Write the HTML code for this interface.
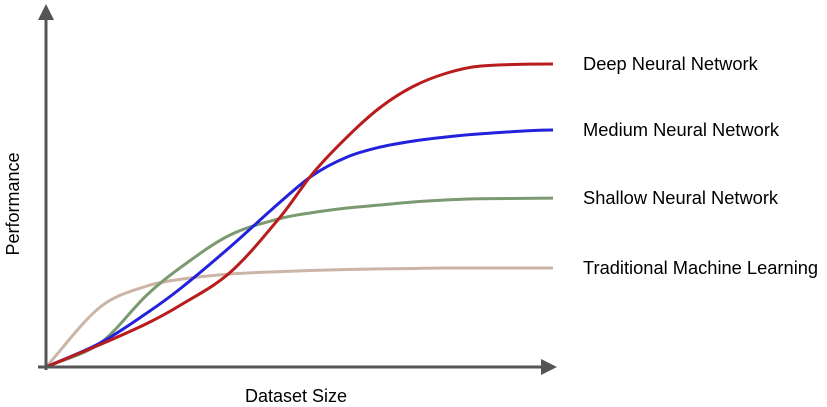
<!DOCTYPE html>
<html><head><meta charset="utf-8"><style>
html,body{margin:0;padding:0;background:#fff;}
svg{display:block;font-family:"Liberation Sans",Arial,sans-serif;}
</style></head><body>
<svg id="chart" width="827" height="407" viewBox="0 0 827 407">
<g id="series"></g>
<g>
<line x1="46" y1="370" x2="46" y2="18" stroke="#555" stroke-width="3"/>
<polygon points="38,20 46,4 54,20" fill="#555"/>
<line x1="38" y1="367" x2="543" y2="367" stroke="#555" stroke-width="3"/>
<polygon points="541,359 557,367 541,375" fill="#555"/>
</g>
<text x="296" y="402" font-size="18" text-anchor="middle" fill="#000">Dataset Size</text>
<text transform="translate(19,204) rotate(-90)" font-size="18" text-anchor="middle" fill="#000">Performance</text>
<g id="labels"></g>
</svg>
<script>
const xs = [0,1.07,1.99,2.64,3.63,4.62,5.27,5.94,6.59,7.24,7.91,8.56,10];
const deepValues = [0,7.5,14.5,20.5,31.5,50,64.7,76.7,86.5,93.5,98,100.3,101];
const mediumValues = [0,8,18,26,40,55,64,70,73.3,75.3,76.7,77.7,79];
const shallowValues = [0,8,24,33,44,49.5,51.5,53,54,55,55.7,56.1,56.3];
const traditionalValues = [0,20,27,29.2,31,31.8,32.2,32.5,32.7,32.85,33,33,33];
const seriesNames = ["Traditional Machine Learning","Shallow Neural Network","Medium Neural Network","Deep Neural Network"];

const xScale = v => 46 + v * 50.7;
const yScale = v => 367 - v * 3;
const NS = "http://www.w3.org/2000/svg";

function pathFor(vals){
  const p = vals.map((v,i)=>[xScale(xs[i]), yScale(v)]);
  const n = p.length, m = new Array(n);
  for(let i=0;i<n;i++){
    const a = p[Math.max(i-1,0)], b = p[Math.min(i+1,n-1)];
    m[i] = (b[1]-a[1])/(b[0]-a[0]);
  }
  m[n-1] = 0;
  let s = "M" + p[0][0] + "," + p[0][1];
  for(let i=0;i<n-1;i++){
    const h=(p[i+1][0]-p[i][0])/3;
    s+=" C"+(p[i][0]+h)+","+(p[i][1]+m[i]*h)+" "+(p[i+1][0]-h)+","+(p[i+1][1]-m[i+1]*h)+" "+p[i+1][0]+","+p[i+1][1];
  }
  return s;
}
const series = [
  {vals:traditionalValues,color:"#cbb5a6",name:"traditional-line",lbl:"traditional-label"},
  {vals:shallowValues,color:"#7b9a70",name:"shallow-line",lbl:"shallow-label"},
  {vals:mediumValues,color:"#2222dd",name:"medium-line",lbl:"medium-label"},
  {vals:deepValues,color:"#b81c1c",name:"deep-line",lbl:"deep-label"}
];
const g = document.getElementById("series");
const lg = document.getElementById("labels");
series.forEach((s,k)=>{
  const path = document.createElementNS(NS,"path");
  path.setAttribute("d", pathFor(s.vals));
  path.setAttribute("fill","none");
  path.setAttribute("stroke", s.color);
  path.setAttribute("stroke-width","3");
  path.setAttribute("stroke-linejoin","round");
  
  
  g.appendChild(path);
  const t = document.createElementNS(NS,"text");
  t.setAttribute("x", 583);
  t.setAttribute("y", yScale(s.vals[s.vals.length-1]) + 6);
  t.setAttribute("font-size","18.3");
  t.textContent = seriesNames[k];
  
  
  lg.appendChild(t);
});
</script>
</body></html>
